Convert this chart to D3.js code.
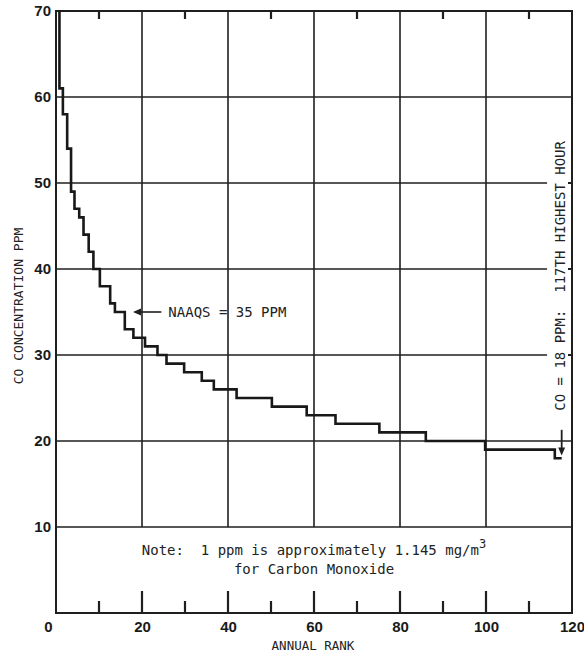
<!DOCTYPE html>
<html>
<head>
<meta charset="utf-8">
<script src="https://cdn.jsdelivr.net/npm/d3@7"></script>
<style>
  html, body { margin: 0; padding: 0; background: #fff; }
  svg { display: block; }
  .mono { font-family: "DejaVu Sans Mono", "Liberation Mono", monospace; fill: #222; }
  .num { font-family: "Liberation Sans", Arial, sans-serif; font-weight: bold; fill: #1a1a1a; }
</style>
</head>
<body>
<script>
// ---- data ----
const dropRank = [0.8, 0.8, 1.6, 2.6, 3.5, 4.3, 5.4, 6.4, 7.6, 8.7, 10.2, 12.6, 13.7, 16.0, 18.0, 20.7, 23.6, 25.7, 29.8, 33.9, 36.7, 42.0, 50.2, 58.3, 65.0, 75.2, 86.0, 99.8, 116.0, 117.6];
const dropPPM  = [70, 61, 58, 54, 49, 47, 46, 44, 42, 40, 38, 36, 35, 33, 32, 31, 30, 29, 28, 27, 26, 25, 24, 23, 22, 21, 20, 19, 18, 18];
const xTickLabels = [0, 20, 40, 60, 80, 100, 120];
const xGrid = [20, 40, 60, 80, 100];
const xMinor = [10, 30, 50, 70, 90, 110];
const yTickLabels = [10, 20, 30, 40, 50, 60, 70];
const yGridFull = [10, 20, 60];
const yGridShort = [30, 40, 50];
const naaqsLevel = 35;
const naaqsArrowRank = [24.5, 17.9];
const hourRank = 117.6;
const hourArrowPPM = [21.3, 18.3];
const shortGridEndRank = 114.2;

const W = 584, H = 655;
const svg = d3.select("body").append("svg").attr("width", W).attr("height", H);

const x = d3.scaleLinear().domain([0, 120]).range([56, 572]);
const y = d3.scaleLinear().domain([0, 70]).range([613, 11]);
const ink = "#1f1f1f";

function lines(cls, data, x1, x2, y1, y2, sw) {
  svg.append("g").attr("class", cls)
    .selectAll("line").data(data).enter().append("line")
    .attr("x1", x1).attr("x2", x2).attr("y1", y1).attr("y2", y2)
    .attr("stroke", ink).attr("stroke-width", sw);
}

// gridlines
lines("vg", xGrid, d => x(d), d => x(d), y(70), y(10), 1.6);
lines("hg", yGridFull, x(0), x(120), d => y(d), d => y(d), 1.6);
lines("hs", yGridShort, x(0), x(shortGridEndRank), d => y(d), d => y(d), 1.6);

// ticks drawn as one path
const tp = d3.path();
xMinor.forEach(d => { tp.moveTo(x(d), y(70)); tp.lineTo(x(d), y(70) + 8); });
xMinor.forEach(d => { tp.moveTo(x(d), y(0)); tp.lineTo(x(d), y(0) - 12); });
xGrid.forEach(d => { tp.moveTo(x(d), y(0)); tp.lineTo(x(d), y(0) - 22); });
yGridShort.forEach(d => { tp.moveTo(x(120) - 4, y(d)); tp.lineTo(x(120), y(d)); });
svg.append("path").attr("d", tp.toString())
  .attr("fill", "none").attr("stroke", ink).attr("stroke-width", 2.2);

// frame
svg.append("rect")
  .attr("x", x(0)).attr("y", y(70))
  .attr("width", x(120) - x(0)).attr("height", y(0) - y(70))
  .attr("fill", "none").attr("stroke", ink).attr("stroke-width", 2);

// axes labels via d3 axes
const ax = svg.append("g").attr("transform", `translate(0,${y(0)})`)
  .call(d3.axisBottom(x).tickValues(xTickLabels).tickSize(0).tickPadding(8).tickFormat(d3.format("d")));
ax.select(".domain").remove();
ax.selectAll("text").attr("class", "num").style("font-size", "15px")
  .attr("dx", d => d === 0 ? -8 : 0);

const ay = svg.append("g").attr("transform", `translate(${x(0)},0)`)
  .call(d3.axisLeft(y).tickValues(yTickLabels).tickSize(0).tickPadding(5).tickFormat(d3.format("d")));
ay.select(".domain").remove();
ay.selectAll("text").attr("class", "num").style("font-size", "15px");

// step curve
const pts = dropRank.map((r, i) => [r, dropPPM[i]]);
svg.append("path")
  .datum(pts)
  .attr("d", d3.line().x(d => x(d[0])).y(d => y(d[1])).curve(d3.curveStepAfter))
  .attr("fill", "none").attr("stroke", "#181818").attr("stroke-width", 2.6)
  .attr("stroke-linejoin", "miter");

// NAAQS arrow & label
const ny = y(naaqsLevel);
svg.append("line")
  .attr("x1", x(naaqsArrowRank[0])).attr("x2", x(naaqsArrowRank[1]) + 6)
  .attr("y1", ny).attr("y2", ny)
  .attr("stroke", ink).attr("stroke-width", 1.6);
svg.append("path")
  .attr("d", `M${x(naaqsArrowRank[1])},${ny} l8,-3.5 l0,7 z`)
  .attr("fill", ink);
svg.append("text").attr("class", "mono")
  .attr("x", x(naaqsArrowRank[0]) + 7).attr("y", ny + 5)
  .style("font-size", "14px")
  .text("NAAQS = 35 PPM");

// 117th hour arrow & label
const hx = x(hourRank);
svg.append("line")
  .attr("x1", hx).attr("x2", hx)
  .attr("y1", y(hourArrowPPM[0])).attr("y2", y(hourArrowPPM[1]) - 6)
  .attr("stroke", ink).attr("stroke-width", 1.8);
svg.append("path")
  .attr("d", `M${hx},${y(hourArrowPPM[1])} l-3.5,-8 l7,0 z`)
  .attr("fill", ink);
svg.append("text").attr("class", "mono")
  .attr("transform", `translate(${x(120) - 7},${y(39.2)}) rotate(-90)`)
  .attr("text-anchor", "middle")
  .style("font-size", "14px")
  .attr("xml:space", "preserve")
  .text("CO = 18 PPM:  117TH HIGHEST HOUR");

// note
const note = svg.append("text").attr("class", "mono")
  .attr("x", x(60)).attr("y", y(10) + 28)
  .attr("text-anchor", "middle")
  .style("font-size", "14px")
  .attr("xml:space", "preserve");
note.append("tspan").text("Note:  1 ppm is approximately 1.145 mg/m");
note.append("tspan").attr("dy", -7).style("font-size", "12px").text("3");
svg.append("text").attr("class", "mono")
  .attr("x", x(60)).attr("y", y(10) + 47)
  .attr("text-anchor", "middle")
  .style("font-size", "14px")
  .text("for Carbon Monoxide");

// axis titles
svg.append("text").attr("class", "mono")
  .attr("x", x(60) - 1).attr("y", 650)
  .attr("text-anchor", "middle")
  .style("font-size", "12.5px")
  .text("ANNUAL RANK");
svg.append("text").attr("class", "mono")
  .attr("transform", `translate(23,${y(35.7)}) rotate(-90)`)
  .attr("text-anchor", "middle")
  .style("font-size", "13px")
  .text("CO CONCENTRATION PPM");
</script>
</body>
</html>
